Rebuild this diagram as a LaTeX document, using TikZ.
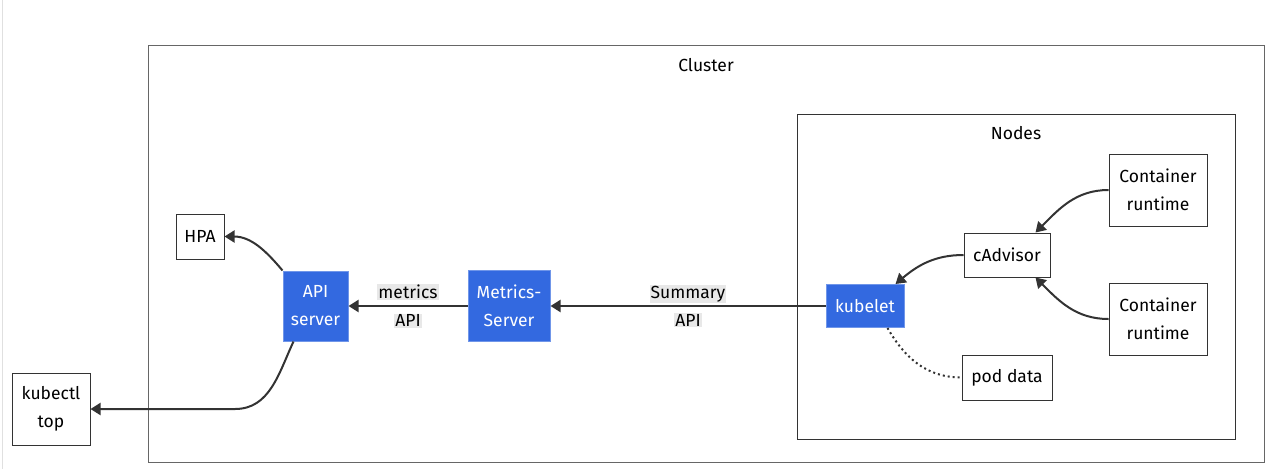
\documentclass[tikz,border=0pt]{standalone}
\usepackage{fontspec}
\setmainfont{Fira Sans}
\usetikzlibrary{positioning,arrows.meta}

\definecolor{kblue}{HTML}{3369E0}
\definecolor{kline}{HTML}{333333}
\definecolor{klbl}{HTML}{E8E8E8}

\newcommand{\lbl}[1]{{\setlength{\fboxsep}{1pt}\colorbox{klbl}{#1}}}

\begin{document}
\begin{tikzpicture}[
  x=1pt, y=1pt,
  every node/.style={font=\fontsize{17.5}{28}\selectfont, align=center, inner sep=0pt},
  box/.style={draw=kline, fill=white, line width=1pt},
  bluebox/.style={draw=kblue!70!white, fill=kblue, text=white, line width=1pt},
  edge/.style={draw=kline, line width=2pt, -{Triangle[length=10pt,width=12pt]}},
  dots/.style={draw=kline, line width=2pt, dash pattern=on 2pt off 3pt},
]

\useasboundingbox (0,0) rectangle (1273,-469);
\draw[black!12, line width=1pt] (2,0) -- (2,-469);

% groups
\draw[draw=black!60, line width=1pt] (148,-45) rectangle (1264,-462);
\draw[draw=black!80, line width=1pt] (797,-114) rectangle (1235,-439);
\node (cluster) at (706,-65) {Cluster};
\node (nodes) at (1016,-133) {Nodes};

% nodes
\node (hpa) [box, minimum width=48, minimum height=45] at (200,-236.5) {HPA};
\node (api) [bluebox, minimum width=65, minimum height=70] at (315.5,-306) {API\\server};
\node (kubectl) [box, minimum width=78, minimum height=72] at (51,-409) {kubectl\\top};
\node (ms) [bluebox, minimum width=82, minimum height=71] at (509,-306) {Metrics-\\Server};
\node (kubelet) [bluebox, minimum width=78, minimum height=43] at (865,-306) {kubelet};
\node (cadv) [box, minimum width=86, minimum height=44] at (1007,-255) {cAdvisor};
\node (cr1) [box, minimum width=98, minimum height=72] at (1158,-190) {Container\\runtime};
\node (cr2) [box, minimum width=98, minimum height=72] at (1158,-319) {Container\\runtime};
\node (pod) [box, minimum width=90, minimum height=45] at (1007,-377.5) {pod data};

\coordinate (bend) at (235,-409);

% edges
\draw[edge] (api.north west) to[out=130, in=0] (hpa.east);
\draw[edge] ([xshift=-22pt]api.south) to[out=-115, in=0] (bend) -- (kubectl.east);
\draw[edge] (ms) -- node {\lbl{metrics}\\\lbl{API}} (api);
\draw[edge] (kubelet) -- node {\lbl{Summary}\\\lbl{API}} (ms);
\draw[edge] (cadv.west) to[out=180, in=40] ([xshift=-9pt]kubelet.north east);
\draw[edge] (cr1.west) to[out=180, in=45] ([xshift=-15pt]cadv.north east);
\draw[edge] (cr2.west) to[out=180, in=-45] ([xshift=-15pt]cadv.south east);
\draw[dots] ([xshift=-17pt]kubelet.south east) to[out=-60, in=180] (pod.west);

\end{tikzpicture}
\end{document}
